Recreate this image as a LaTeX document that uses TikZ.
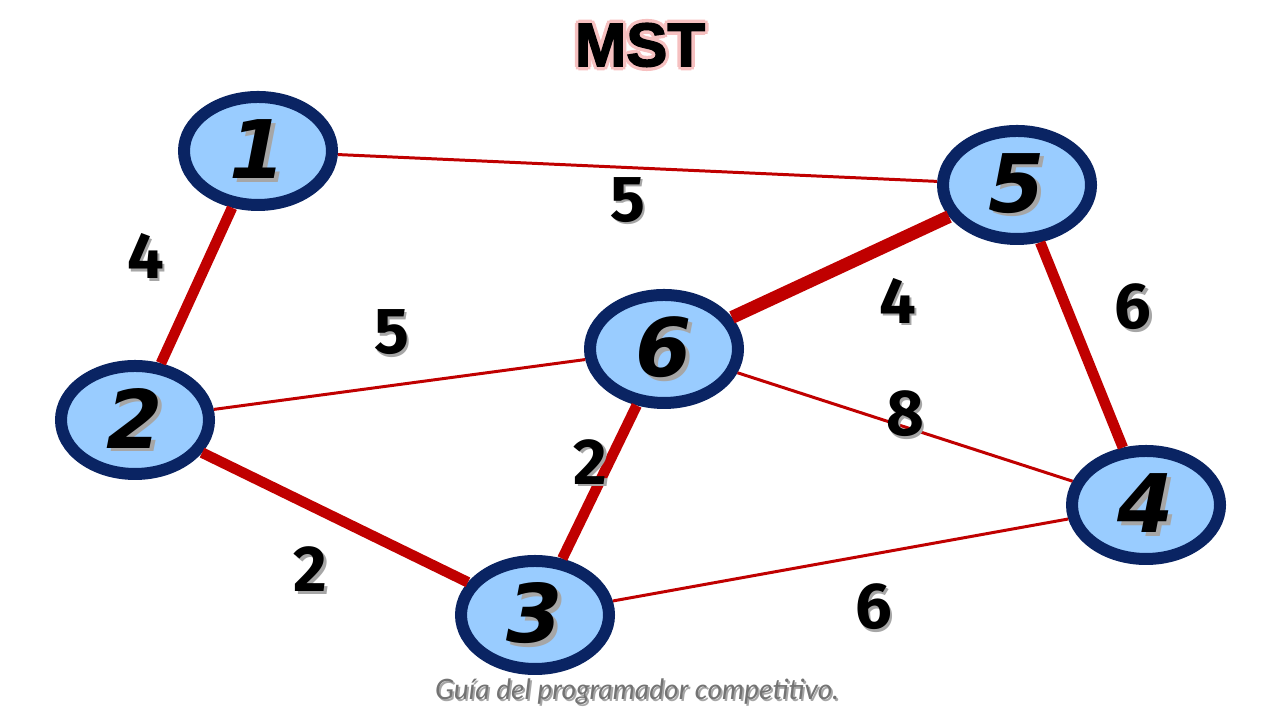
\documentclass[tikz,border=0pt]{standalone}
\usepackage{fontspec}
\usetikzlibrary{shapes.geometric}
\setmainfont{Liberation Sans}
\newfontfamily\numfont{DejaVu Sans}
\newfontfamily\wfont{Fira Sans}
\newfontfamily\titlefont{Liberation Sans}[FakeBold=2.5]
\newfontfamily\footfont{Lato}
\definecolor{mstred}{HTML}{C00000}
\definecolor{nodeblue}{HTML}{99CCFF}
\definecolor{nodenavy}{HTML}{0A2463}
\definecolor{glowpink}{HTML}{F6C0C0}

\newcommand{\shadowtext}[2]{\rlap{\kern#1\raisebox{-#1}{\color{black!35}#2}}#2}
\newcommand{\nodenum}[1]{{\numfont\bfseries\itshape\fontsize{23}{23}\selectfont\shadowtext{1pt}{#1}}}
\newcommand{\wnum}[1]{{\wfont\bfseries\fontsize{18.5}{18.5}\selectfont\shadowtext{0.8pt}{#1}}}

\begin{document}
\begin{tikzpicture}
\useasboundingbox (0,0) rectangle (12.8,7.2);

% title with a soft pink rim
\foreach \a [count=\i] in {0,45,...,315}
    \node[text=glowpink] (glow\i) at ([shift={(\a:0.035)}]6.4,6.75) {\titlefont\bfseries\fontsize{17.5}{17.5}\selectfont MST};
\node (title) at (6.4,6.75) {\titlefont\bfseries\fontsize{17.5}{17.5}\selectfont MST};

\begin{scope}[every node/.style={ellipse,draw=nodenavy,fill=nodeblue,line width=0.12cm,
              minimum width=1.48cm,minimum height=1.08cm,inner sep=0pt}]
    \node (n1) at (2.58,5.69) {\nodenum{1}};
    \node (n5) at (10.17,5.35) {\nodenum{5}};
    \node (n6) at (6.64,3.71) {\nodenum{6}};
    \node (n2) at (1.35,3.00) {\nodenum{2}};
    \node (n4) at (11.46,2.15) {\nodenum{4}};
    \node (n3) at (5.35,1.05) {\nodenum{3}};
\end{scope}

% edges left out of the tree
\begin{scope}[every node/.style={inner sep=0pt},
              every edge/.style={draw=mstred,line width=0.85pt}]
    \path  (n1) edge node[shift={(-0.10,-0.33)}] {\wnum{5}} (n5);
    \path  (n2) edge node[shift={(-0.08,0.51)}] {\wnum{5}} (n6);
    \path  (n6) edge node[shift={(0.00,0.12)}] {\wnum{8}} (n4);
    \path  (n3) edge node[shift={(0.33,-0.48)}] {\wnum{6}} (n4);
\end{scope}

% edges of the tree
\begin{scope}[every node/.style={inner sep=0pt},
              every edge/.style={draw=mstred,line width=3pt}]
    \path  (n1) edge node[shift={(-0.51,0.28)}] {\wnum{4}} (n2);
    \path  (n2) edge node[shift={(-0.25,-0.53)}] {\wnum{2}} (n3);
    \path  (n3) edge node[shift={(-0.09,0.19)}] {\wnum{2}} (n6);
    \path  (n6) edge[line width=3.7pt] node[shift={(0.57,-0.35)}] {\wnum{4}} (n5);
    \path  (n5) edge node[shift={(0.51,0.37)}] {\wnum{6}} (n4);
\end{scope}

\node[text=black!55] (credit) at (6.37,0.27) {\footfont\itshape\fontsize{8}{8}\selectfont\shadowtext{0.5pt}{Guía del programador competitivo.}};
\end{tikzpicture}
\end{document}
